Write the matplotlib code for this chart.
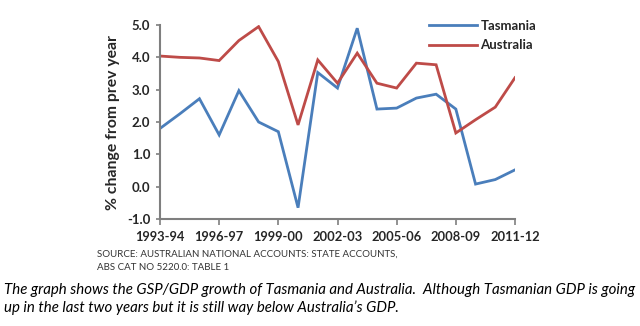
import matplotlib
matplotlib.use("Agg")
import matplotlib.pyplot as plt
from matplotlib.lines import Line2D

years = ["1993-94", "1994-95", "1995-96", "1996-97", "1997-98", "1998-99", "1999-00",
         "2000-01", "2001-02", "2002-03", "2003-04", "2004-05", "2005-06", "2006-07",
         "2007-08", "2008-09", "2009-10", "2010-11", "2011-12"]
tasmania = [1.8, 2.25, 2.72, 1.6, 2.97, 2.0, 1.7, -0.65, 3.53, 3.05, 4.9, 2.4, 2.43,
            2.74, 2.86, 2.4, 0.08, 0.22, 0.52]
australia = [4.04, 4.0, 3.98, 3.9, 4.52, 4.95, 3.87, 1.91, 3.92, 3.2, 4.13, 3.2, 3.05,
             3.82, 3.77, 1.66, 2.07, 2.46, 3.37]
tick_labels = ["1993-94", "1996-97", "1999-00", "2002-03", "2005-06", "2008-09", "2011-12"]
y_ticks = [-1.0, 0.0, 1.0, 2.0, 3.0, 4.0, 5.0]

blue = "#4a7ebb"
red = "#be4b48"
axis_col = "#7f7f7f"
txt = "#262626"

fig = plt.figure(figsize=(6.4, 3.26), dpi=100)
ax = fig.add_axes([160/640, 1-219/326, 355/640, 194/326])

x = list(range(len(years)))
ax.plot(x, tasmania, color=blue, lw=2.0, solid_joinstyle="miter")
ax.plot(x, australia, color=red, lw=2.0, solid_joinstyle="miter")

ax.set_xlim(0, len(years) - 1)
ax.set_ylim(-1, 5)

for s in ["top", "right", "bottom"]:
    ax.spines[s].set_visible(False)
ax.spines["left"].set_color(axis_col)
ax.spines["left"].set_linewidth(1.5)

ax.set_yticks(y_ticks)
ax.set_yticklabels([f"{v:.1f}" for v in y_ticks], fontsize=9.5, fontweight="bold",
                   color=txt, family="Lato")
ax.tick_params(axis="y", direction="out", length=3, width=1.2, color=axis_col, pad=4)

tick_pos = [years.index(t) for t in tick_labels]
ax.set_xticks(tick_pos)
ax.set_xticklabels(tick_labels, fontsize=9.3, fontweight="bold", color=txt, family="Lato")
ax.tick_params(axis="x", length=0, pad=8.5)

sec = ax.secondary_xaxis(0)
sec.set_xticks(tick_pos)
sec.set_xticklabels([])
sec.spines["bottom"].set_color(axis_col)
sec.spines["bottom"].set_linewidth(1.5)
sec.tick_params(axis="x", direction="out", length=4, width=1.2, color=axis_col)

ax.set_ylabel("% change from prev year", fontsize=11.3, fontweight="bold", color=txt,
              family="Lato", labelpad=5)

handles = [Line2D([], [], color=blue, lw=2.0), Line2D([], [], color=red, lw=2.0)]
fig.legend(handles, ["Tasmania", "Australia"], loc="upper left",
           bbox_to_anchor=(429/640, 1-20/326), frameon=False, handlelength=3.6,
           handletextpad=0.3, borderpad=0, borderaxespad=0, labelspacing=0.55,
           prop={"family": "Lato", "size": 9.5, "weight": "bold"}, labelcolor=txt)

fig.text(97/640, 1-254/326, "SOURCE: AUSTRALIAN NATIONAL ACCOUNTS: STATE ACCOUNTS,",
         fontsize=7, family="Lato", color="#333333", va="center")
fig.text(97/640, 1-268/326, "ABS CAT NO 5220.0: TABLE 1",
         fontsize=7, family="Lato", color="#333333", va="center")
fig.text(4/640, 1-290/326,
         "The graph shows the GSP/GDP growth of Tasmania and Australia.  Although Tasmanian GDP is going",
         fontsize=10.8, family="Lato", style="italic", color="black", va="center")
fig.text(4/640, 1-308/326,
         "up in the last two years but it is still way below Australia\u2019s GDP.",
         fontsize=10.8, family="Lato", style="italic", color="black", va="center")

fig.savefig("out.png", dpi=100)
